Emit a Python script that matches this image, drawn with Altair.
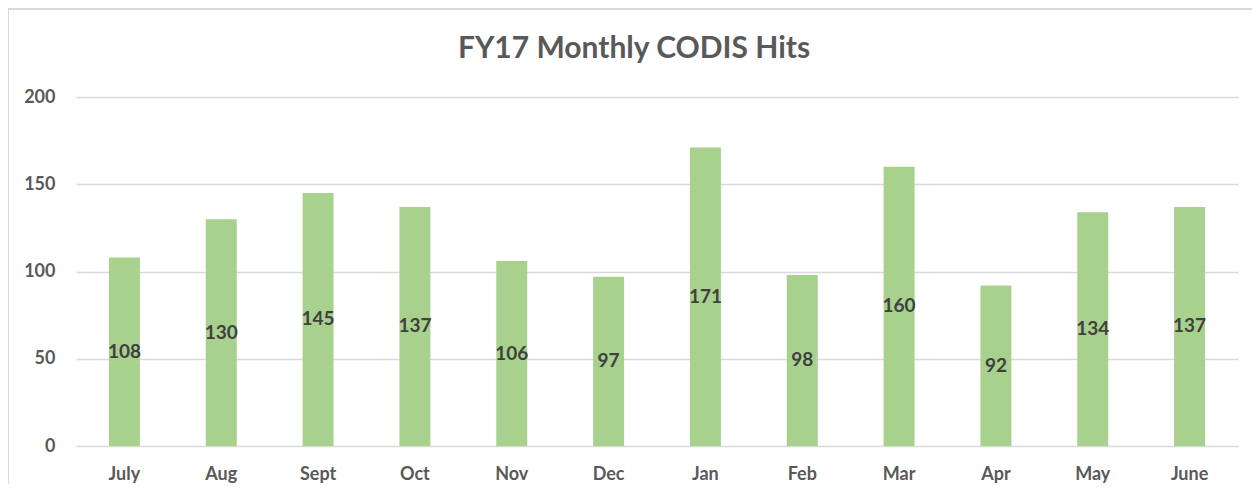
import altair as alt
import pandas as pd

months = ["July", "Aug", "Sept", "Oct", "Nov", "Dec", "Jan", "Feb", "Mar", "Apr", "May", "June"]
hits = [108, 130, 145, 137, 106, 97, 171, 98, 160, 92, 134, 137]
title_text = ["FY17 Monthly CODIS Hits"]

df = pd.DataFrame({"month": months, "hits": hits})
tdf = pd.DataFrame({"t": title_text})

FONT = "Lato"
W, H = 1162, 349

x_enc = alt.X("month:N", sort=months, title=None,
              scale=alt.Scale(paddingInner=0.68, paddingOuter=0.34),
              axis=alt.Axis(labelAngle=0, labelFont=FONT, labelFontSize=18,
                            labelFontWeight="bold", labelColor="#595959",
                            labelPadding=19, ticks=False, domain=False, grid=False))
y_enc = alt.Y("hits:Q", title=None,
              scale=alt.Scale(domain=[0, 200], nice=False),
              axis=alt.Axis(values=[0, 50, 100, 150, 200], labelFont=FONT,
                            labelFontSize=18, labelFontWeight="bold",
                            labelColor="#595959", labelPadding=21, ticks=False,
                            domain=False, grid=True, gridColor="#D9D9D9",
                            gridWidth=1.5))

bars = alt.Chart(df).mark_bar(color="#A9D18E").encode(x=x_enc, y=y_enc)

labels = alt.Chart(df).transform_calculate(mid="datum.hits / 2").mark_text(
    font=FONT, fontSize=19, fontWeight="bold", color="#404040", baseline="middle"
).encode(x=alt.X("month:N", sort=months), y=alt.Y("mid:Q"), text="hits:Q")

title = alt.Chart(tdf).mark_text(
    font=FONT, fontSize=30, fontWeight="bold", color="#595959",
    baseline="middle", align="center"
).encode(x=alt.value(W / 2 - 23), y=alt.value(-48), text="t:N")

border_top = alt.Chart(df).mark_rule(color="#D9D9D9", strokeWidth=1.5).encode(
    x=alt.value(-68), x2=alt.value(W + 20), y=alt.value(-88))
border_left = alt.Chart(df).mark_rule(color="#D9D9D9", strokeWidth=1.5).encode(
    x=alt.value(-68), y=alt.value(-88), y2=alt.value(H + 60))

chart = alt.layer(border_top, border_left, bars, labels, title).properties(
    width=W, height=H,
    padding={"left": 68, "top": 89, "right": 14, "bottom": 38},
    autosize=alt.AutoSizeParams(type="none"),
).configure_view(stroke=None)

chart.save("out.html", embed_options={"renderer": "svg", "actions": False})
